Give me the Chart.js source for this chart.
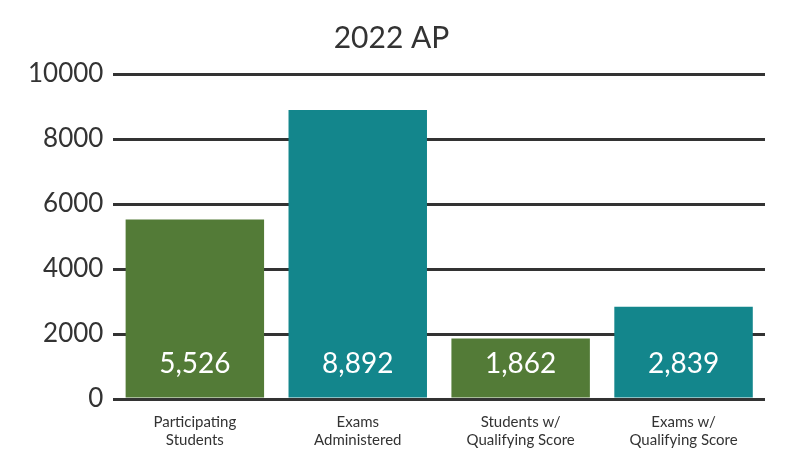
<!DOCTYPE html>
<html><head><meta charset="utf-8">
<script src="https://cdn.jsdelivr.net/npm/chart.js@4"></script>
<style>html,body{margin:0;background:#fff}#w{width:800px;height:467px}</style>
</head><body><div id="w"><canvas id="c"></canvas></div>
<script>
const categories = [["Participating","Students"],["Exams","Administered"],["Students w/","Qualifying Score"],["Exams w/","Qualifying Score"]];
const values = [5526, 8892, 1862, 2839];
const valueLabels = ["5,526","8,892","1,862","2,839"];
const colors = ["#537b37","#13868c","#537b37","#13868c"];
const labelPlugin = {
  id:'vl',
  afterDatasetsDraw(chart){
    const ctx=chart.ctx, meta=chart.getDatasetMeta(0);
    ctx.save();ctx.fillStyle='#fff';ctx.font='28px Lato, "Open Sans", sans-serif';
    ctx.textAlign='center';ctx.textBaseline='middle';
    meta.data.forEach((b,i)=>ctx.fillText(valueLabels[i], b.x, chart.scales.y.getPixelForValue(0)-35));
    ctx.restore();
  }
};
new Chart(document.getElementById('c'),{
  type:'bar',
  data:{labels:categories,datasets:[{data:values,backgroundColor:colors,barPercentage:0.85,categoryPercentage:1}]},
  options:{responsive:true,maintainAspectRatio:false,animation:false,
    layout:{padding:{left:18,right:35,top:10,bottom:12}},
    plugins:{legend:{display:false},tooltip:{enabled:false},
      title:{display:true,text:'2022 AP',color:'#333',font:{size:30,family:'Lato, "Open Sans", sans-serif',weight:'normal'},padding:{top:10,bottom:18}}},
    scales:{
      x:{grid:{display:false},border:{display:false},ticks:{color:'#333',padding:6,font:{size:15,family:'Lato, "Open Sans", sans-serif'},maxRotation:0}},
      y:{min:0,max:10000,ticks:{stepSize:2000,color:'#333',padding:10,callback:v=>String(v),font:{size:26,family:'Lato, "Open Sans", sans-serif'}},
        border:{display:false},grid:{color:'#333',lineWidth:3,drawTicks:false}}
    }
  },
  plugins:[labelPlugin]
});
</script></body></html>
